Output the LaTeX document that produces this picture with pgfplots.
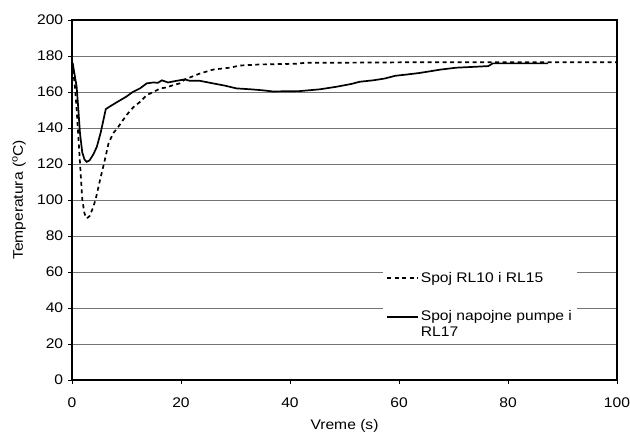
\documentclass[border=0pt]{standalone}
\usepackage{pgfplots}
\pgfplotsset{compat=1.18}
\usepackage{fontspec}
\setmainfont{Liberation Sans}[FakeStretch=1.12]
\pgfplotsset{raisedlegend/.style={legend image code/.code={\draw[##1] (0bp,8bp) -- (31bp,8bp);}}}
\begin{document}
\fontsize{14}{16.5}\selectfont
\begin{tikzpicture}
\begin{axis}[
  scale only axis,
  width=545bp, height=360bp,
  xmin=0, xmax=100, ymin=0, ymax=200,
  xtick={0,20,...,100}, ytick={0,20,...,200},
  /pgf/number format/assume math mode=true,
  tick align=outside,
  major tick length=4bp,
  tick style={black, line width=0.8bp},
  ymajorgrids,
  major grid style={black!55, line width=0.8bp},
  axis line style={black, line width=1.1bp},
  xtick pos=bottom, ytick pos=left,
  xticklabel style={yshift=-9bp},
  xlabel={Vreme (s)},
  ylabel={Temperatura ($^{\mathrm{o}}$C)},
  xlabel style={at={(axis description cs:0.5,-0.128)}, anchor=center},
  ylabel style={at={(axis description cs:-0.097,0.5)}, anchor=center},
  legend style={at={(axis cs:57.06,62.8)}, anchor=north west, draw=none, fill=white,
    inner xsep=3bp, inner ysep=3bp, row sep=22bp},
  legend cell align=left,
  legend style={cells={align=left, anchor=west}},
  legend image code/.code={\draw[#1] (0bp,0bp) -- (31bp,0bp);},
]
\addplot[black, line width=1.7bp, dash pattern=on 4bp off 3.5bp] coordinates {
(0,176.5) (0.15,173.5) (0.54,163) (0.85,150.5) (1.16,135.5) (1.47,120.5) (1.88,100.5) (2.29,92.5)
(2.70,89.8) (3.22,91) (3.83,95.5) (4.35,100.5) (5.17,111.5) (5.89,120.5) (6.71,131.5) (7.54,137)
(8.46,140.5) (10.01,147.2) (11.24,151.5) (12.48,154.5) (13.71,158.3) (14.95,160) (16.18,162)
(17.31,162.5) (18.55,163.8) (19.78,164.8) (20.71,167) (22.25,168.8) (23.49,170.3) (25.96,172.5)
(28.94,173.5) (30.79,174.7) (34.5,175.3) (41.2,175.7) (43.0,176.3) (51.3,176.3) (61.6,176.5) (100,176.5)
};
\addlegendentry{Spoj RL10 i RL15}
\addplot[black, line width=1.7bp, raisedlegend] coordinates {
(0,176.5) (0.13,175.9) (0.54,168.5) (0.85,163) (1.16,150.5) (1.47,137) (1.88,126.5) (2.29,122.5)
(2.70,121.2) (3.22,122) (3.94,125.5) (4.55,129.5) (5.27,137.5) (6.2,150.5) (6.97,152) (8.05,154)
(10.01,157.5) (11.14,160) (12.48,162) (13.71,164.8) (14.95,165.3) (15.77,165.1) (16.49,166.5)
(17.62,165.3) (19.17,166.2) (20.71,167) (21.63,166.2) (23.49,166.2) (25.85,164.8) (28.1,163.5)
(30.18,162) (32.75,161.5) (34.8,161) (36.86,160.3) (41.8,160.5) (45.5,161.5) (48.5,162.9)
(51.3,164.5) (52.8,165.7) (55.3,166.5) (57.4,167.5) (59.3,169) (61.4,169.7) (63.6,170.5)
(65.7,171.5) (67.5,172.4) (70.5,173.5) (73.9,174) (76.4,174.4) (77.2,175.9) (87.3,175.9)
};
\addlegendentry{Spoj napojne pumpe i\\RL17}
\end{axis}
\pgfresetboundingbox
\path (current axis.south west) ++(-72bp,-55bp) rectangle ++(630bp,435bp);
\end{tikzpicture}
\end{document}
